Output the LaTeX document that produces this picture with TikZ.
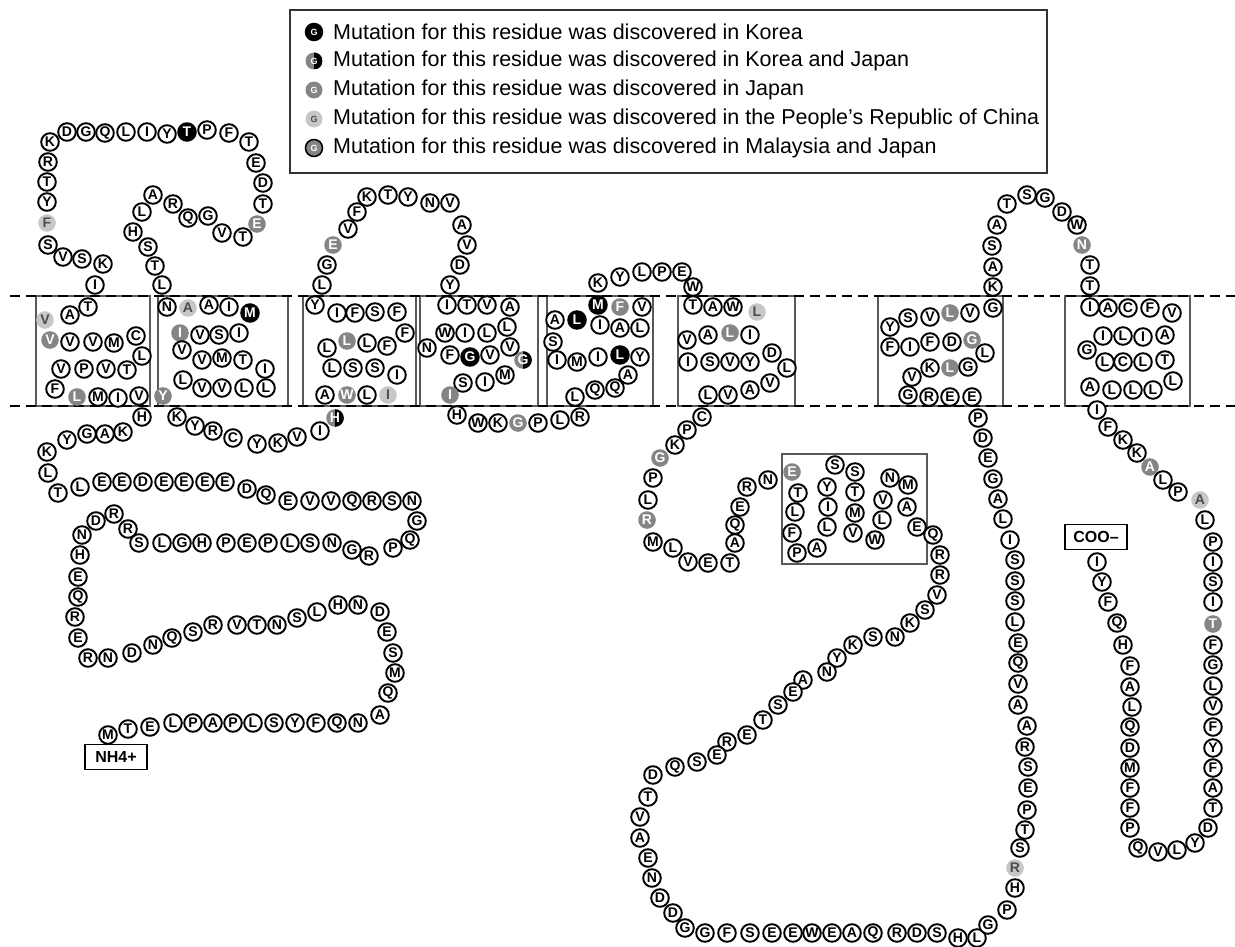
\documentclass[tikz,border=0pt]{standalone}
\usepackage{fontspec}
\setmainfont{Liberation Sans}
\definecolor{gris}{gray}{0.52}
\definecolor{grisclaro}{gray}{0.78}
\newcounter{resid}
\tikzset{
  res/.style={circle,draw=black,line width=1.9pt,fill=white,minimum size=17.6pt,
    inner sep=0pt,font=\fontsize{14}{14}\selectfont\bfseries},
  pl/.style={},
  ko/.style={fill=black,text=white},
  kj/.style={draw=none,fill=gris,text=white,
    path picture={\fill[black] (path picture bounding box.south)
      rectangle (path picture bounding box.north east);}},
  jp/.style={draw=none,fill=gris,text=white},
  cn/.style={draw=none,fill=grisclaro,text=black!70},
  mj/.style={fill=gris,text=white},
  caja/.style={draw=black!65,line width=1.1pt},
  membrana/.style={line width=2pt,dash pattern=on 10pt off 6pt},
  termino/.style={draw=black,line width=1.6pt,minimum width=62pt,minimum height=25pt,
    inner sep=0pt,font=\fontsize{16}{16}\selectfont\bfseries},
  icono/.style={res,minimum size=17pt,line width=1.5pt,font=\fontsize{9}{9}\selectfont\bfseries},
  leyenda/.style={anchor=west,inner sep=0pt,font=\fontsize{21.5}{21.5}\selectfont}
}
% x/y/letra/tipo
\newcommand{\Cadena}[1]{%
  \foreach \x/\y/\letra/\tipo in {#1} {
    \stepcounter{resid}
    \node[res,\tipo] (r\theresid) at (\x,\y) {\letra};
  }}

\begin{document}
\begin{tikzpicture}[x=1pt,y=-1pt]
  \useasboundingbox (0,0) rectangle (1235,947);

  % membrane and helix boxes
  \foreach \xa/\xb in {36/150,158/288,303/416,420/538,547/653,678/795,878/1003,1065/1190}
    \draw[caja] (\xa,296) rectangle (\xb,406);
  \draw[caja] (782,454) rectangle (927,564);
  \draw[membrana] (10,296) -- (1235,296);
  \draw[membrana] (10,406) -- (1235,406);

  % legend
  \draw[line width=1.2pt,draw=black!80] (290,10) rectangle (1047,173);
  \foreach \y/\tipo/\texto [count=\i] in {
      32/ko/{Mutation for this residue was discovered in Korea},
      61/kj/{Mutation for this residue was discovered in Korea and Japan},
      90/jp/{Mutation for this residue was discovered in Japan},
      119/cn/{Mutation for this residue was discovered in the People’s Republic of China},
      148/mj/{Mutation for this residue was discovered in Malaysia and Japan}} {
    \node[icono,\tipo] (ic\i) at (314,\y) {G};
    \node[leyenda] (ley\i) at (333,\y) {\texto};
  }

  % N-terminal tail
  \node[termino] (nh) at (116,757) {NH4+};
  \Cadena{108/735/M/pl, 128/729/T/pl, 150/727/E/pl, 173/723/L/pl, 193/723/P/pl,
    213/723/A/pl, 233/723/P/pl, 253/723/L/pl, 274/723/S/pl, 295/723/Y/pl,
    316/723/F/pl, 337/723/Q/pl, 358/723/N/pl, 380/715/A/pl, 388/693/Q/pl,
    395/673/M/pl, 393/653/S/pl, 387/632/E/pl, 380/612/D/pl, 358/605/N/pl,
    338/605/H/pl, 317/612/L/pl, 297/618/S/pl, 277/625/N/pl, 257/625/T/pl,
    237/625/V/pl, 213/625/R/pl, 193/632/S/pl, 172/638/Q/pl, 153/645/N/pl,
    132/653/D/pl, 108/658/N/pl, 88/658/R/pl, 78/638/E/pl, 75/617/R/pl,
    78/597/Q/pl, 78/577/E/pl, 80/555/H/pl, 82/535/N/pl, 96/521/D/pl,
    114/514/R/pl, 128/529/R/pl, 139/543/S/pl, 162/543/L/pl, 182/543/G/pl,
    202/543/H/pl, 226/543/P/pl, 247/543/E/pl, 268/543/P/pl, 290/543/L/pl,
    310/543/S/pl, 332/543/N/pl, 352/550/G/pl, 369/556/R/pl, 393/548/P/pl,
    410/540/Q/pl, 417/521/G/pl, 412/501/N/pl, 392/501/S/pl, 372/501/R/pl,
    352/501/Q/pl, 331/501/V/pl, 310/501/V/pl, 288/501/E/pl, 266/495/Q/pl,
    247/489/D/pl, 225/482/E/pl, 205/482/E/pl, 184/482/E/pl, 164/482/E/pl,
    143/482/D/pl, 122/482/E/pl, 102/482/E/pl, 80/487/L/pl, 58/493/T/pl,
    48/473/L/pl, 47/452/K/pl, 67/440/Y/pl, 87/434/G/pl, 105/434/A/pl,
    123/432/K/pl, 142/417/H/pl}

  % helix 1 and first loop
  \Cadena{139/396/V/pl, 118/398/I/pl, 98/397/M/pl, 77/397/L/jp, 55/389/F/pl,
    61/369/V/pl, 84/369/P/pl, 106/369/V/pl, 127/370/T/pl, 142/356/L/pl,
    136/336/C/pl, 114/343/M/pl, 93/342/V/pl, 70/342/V/pl, 50/340/V/jp,
    45/320/V/cn, 70/315/A/pl, 88/307/T/pl, 95/285/I/pl, 103/264/K/pl,
    82/259/S/pl, 63/257/V/pl, 48/245/S/pl, 47/223/F/cn, 47/202/Y/pl,
    47/182/T/pl, 48/162/R/pl, 50/142/K/pl, 67/132/D/pl, 86/132/G/pl,
    105/133/Q/pl, 126/132/L/pl, 147/132/I/pl, 167/134/Y/pl, 187/132/T/ko,
    207/130/P/pl, 229/133/F/pl, 249/142/T/pl, 256/163/E/pl, 263/183/D/pl,
    263/204/T/pl, 257/224/E/jp, 243/237/T/pl, 222/233/V/pl, 208/216/G/pl,
    188/218/Q/pl, 173/204/R/pl, 153/195/A/pl, 142/212/L/pl, 133/232/H/pl,
    148/247/S/pl, 155/266/T/pl, 162/285/L/pl}

  % helix 2
  \Cadena{167/307/N/pl, 188/308/A/cn, 209/305/A/pl, 229/307/I/pl, 250/313/M/ko,
    239/333/I/pl, 219/335/S/pl, 200/335/V/pl, 180/333/I/jp, 182/350/V/pl,
    202/360/V/pl, 222/358/M/pl, 243/360/T/pl, 265/369/I/pl, 266/388/L/pl,
    244/388/L/pl, 222/388/V/pl, 202/388/V/pl, 183/380/L/pl, 163/396/Y/jp,
    177/417/K/pl, 195/426/Y/pl, 213/431/R/pl, 233/438/C/pl, 257/444/Y/pl,
    278/443/K/pl, 297/437/V/pl, 320/431/I/pl, 335/418/H/kj}

  % helix 3 and second loop
  \Cadena{325/395/A/pl, 347/395/W/jp, 367/395/L/pl, 388/395/I/cn, 397/375/I/pl,
    375/368/S/pl, 353/368/S/pl, 332/368/L/pl, 327/348/L/pl, 347/341/L/jp,
    367/343/L/pl, 387/346/F/pl, 405/333/F/pl, 397/312/F/pl, 375/312/S/pl,
    355/313/F/pl, 337/313/I/pl, 315/305/Y/pl, 322/285/L/pl, 327/265/G/pl,
    333/245/E/jp, 348/229/V/pl, 357/212/F/pl, 367/197/K/pl, 388/195/T/pl,
    408/197/Y/pl, 430/203/N/pl, 450/203/V/pl, 462/225/A/pl, 467/245/V/pl,
    460/265/D/pl, 450/285/Y/pl}

  % helix 4
  \Cadena{447/305/I/pl, 467/305/T/pl, 487/305/V/pl, 510/307/A/pl, 507/327/L/pl,
    487/333/L/pl, 465/333/I/pl, 445/333/W/pl, 427/348/N/pl, 450/355/F/pl,
    470/357/G/ko, 490/355/V/pl, 510/347/V/pl, 523/360/G/kj, 505/375/M/pl,
    485/382/I/pl, 463/383/S/pl, 450/395/I/jp, 457/415/H/pl, 478/423/W/pl,
    498/423/K/pl, 518/423/G/jp, 538/423/P/pl, 560/420/L/pl, 580/417/R/pl}

  % helix 5
  \Cadena{575/397/L/pl, 595/390/Q/pl, 615/388/Q/pl, 628/375/A/pl, 640/357/Y/pl,
    620/355/L/ko, 598/357/I/pl, 577/362/M/pl, 557/360/I/pl, 553/342/S/pl,
    555/320/A/pl, 577/320/L/ko, 600/325/I/pl, 620/328/A/pl, 640/328/L/pl,
    642/307/V/pl, 620/307/F/jp, 598/305/M/ko, 598/283/K/pl, 620/277/Y/pl,
    642/272/L/pl, 662/272/P/pl, 682/272/E/pl, 693/287/W/pl}

  % helix 6 and middle loop
  \Cadena{693/305/T/pl, 713/307/A/pl, 733/307/W/pl, 757/312/L/cn, 750/335/I/pl,
    730/333/L/jp, 708/335/A/pl, 687/340/V/pl, 688/362/I/pl, 710/362/S/pl,
    730/362/V/pl, 750/362/Y/pl, 772/353/D/pl, 787/368/L/pl, 770/383/V/pl,
    750/390/A/pl, 728/395/V/pl, 708/395/L/pl, 702/417/C/pl, 687/430/P/pl,
    675/445/K/pl, 660/458/G/jp, 653/478/P/pl, 648/500/L/pl, 647/520/R/jp,
    653/542/M/pl, 673/548/L/pl, 688/562/V/pl, 708/563/E/pl, 730/563/T/pl,
    735/543/A/pl, 735/525/Q/pl, 740/507/E/pl, 747/487/R/pl, 768/480/N/pl,
    792/472/E/jp, 798/493/T/pl, 795/512/L/pl, 792/533/F/pl, 797/553/P/pl,
    817/548/A/pl, 827/527/L/pl, 828/507/I/pl, 827/487/Y/pl, 835/465/S/pl,
    855/472/S/pl, 855/492/T/pl, 855/513/M/pl, 853/533/V/pl, 875/540/W/pl,
    882/520/L/pl, 883/500/V/pl, 890/478/N/pl, 908/485/M/pl, 907/507/A/pl,
    917/527/E/pl, 933/535/Q/pl, 940/555/R/pl, 940/575/R/pl, 937/595/V/pl}

  % long cytoplasmic loop
  \Cadena{925/610/S/pl, 910/623/K/pl, 895/637/N/pl, 873/637/S/pl, 853/645/K/pl,
    837/658/Y/pl, 827/672/N/pl, 803/680/A/pl, 793/692/E/pl, 778/705/S/pl,
    763/720/T/pl, 747/735/E/pl, 727/742/R/pl, 717/755/E/pl, 697/762/S/pl,
    675/767/Q/pl, 653/775/D/pl, 648/797/T/pl, 640/817/V/pl, 640/838/A/pl,
    648/858/E/pl, 652/878/N/pl, 660/898/D/pl, 673/913/D/pl, 685/928/G/pl,
    705/933/G/pl, 727/933/F/pl, 750/933/S/pl, 772/933/E/pl, 793/933/E/pl,
    812/933/W/pl, 832/933/E/pl, 852/933/A/pl, 873/933/Q/pl, 897/933/R/pl,
    917/933/D/pl, 937/933/S/pl, 958/938/H/pl, 977/938/L/pl, 988/925/G/pl,
    1007/910/P/pl, 1015/888/H/pl, 1015/868/R/cn, 1020/848/S/pl, 1025/830/T/pl,
    1027/810/P/pl, 1028/788/E/pl, 1028/767/S/pl, 1025/747/R/pl, 1027/726/A/pl,
    1018/705/A/pl, 1018/684/V/pl, 1018/663/Q/pl, 1018/643/E/pl, 1015/622/L/pl,
    1015/601/S/pl, 1015/581/S/pl, 1015/560/S/pl, 1010/540/I/pl, 1003/519/L/pl,
    998/499/A/pl, 993/479/G/pl, 988/458/E/pl, 983/438/D/pl, 978/418/P/pl}

  % helix 7 and third loop
  \Cadena{972/397/E/pl, 950/397/E/pl, 929/397/R/pl, 908/395/G/pl, 912/377/V/pl,
    930/368/K/pl, 950/368/L/jp, 968/367/G/pl, 985/353/L/pl, 972/340/G/jp,
    952/342/D/pl, 930/342/F/pl, 910/347/I/pl, 890/347/F/pl, 890/327/Y/pl,
    908/318/S/pl, 930/317/V/pl, 950/313/L/jp, 970/313/V/pl, 993/308/G/pl,
    993/287/K/pl, 993/267/A/pl, 992/246/S/pl, 997/225/A/pl, 1007/204/T/pl,
    1027/195/S/pl, 1045/198/G/pl, 1062/212/D/pl, 1077/225/W/pl, 1082/245/N/jp,
    1090/265/T/pl, 1090/286/T/pl}

  % helix 8
  \Cadena{1090/307/I/pl, 1108/308/A/pl, 1128/308/C/pl, 1150/308/F/pl, 1172/313/V/pl,
    1165/335/A/pl, 1143/337/I/pl, 1123/336/L/pl, 1103/336/I/pl, 1087/350/G/pl,
    1105/362/L/pl, 1123/362/C/pl, 1143/362/L/pl, 1165/360/T/pl, 1173/381/L/pl,
    1153/390/L/pl, 1133/390/L/pl, 1112/390/L/pl, 1090/387/A/pl}

  % C-terminal tail
  \Cadena{1097/410/I/pl, 1108/427/F/pl, 1123/440/K/pl, 1137/453/K/pl, 1150/467/A/jp,
    1163/480/L/pl, 1178/492/P/pl, 1200/500/A/cn, 1205/520/L/pl, 1213/542/P/pl,
    1213/562/I/pl, 1213/582/S/pl, 1213/602/I/pl, 1213/624/T/jp, 1213/645/F/pl,
    1213/665/G/pl, 1213/686/L/pl, 1213/706/V/pl, 1213/727/F/pl, 1213/748/Y/pl,
    1213/768/F/pl, 1213/788/A/pl, 1213/808/T/pl, 1208/828/D/pl, 1195/843/Y/pl,
    1177/850/L/pl, 1158/852/V/pl, 1138/848/Q/pl, 1130/828/P/pl, 1130/808/F/pl,
    1130/788/F/pl, 1130/768/M/pl, 1130/748/D/pl, 1130/727/Q/pl, 1132/707/L/pl,
    1130/687/A/pl, 1130/666/F/pl, 1123/645/H/pl, 1117/623/Q/pl, 1108/602/F/pl,
    1102/582/Y/pl, 1097/562/I/pl}
  \node[termino] (coo) at (1096,537) {COO–};
\end{tikzpicture}
\end{document}
